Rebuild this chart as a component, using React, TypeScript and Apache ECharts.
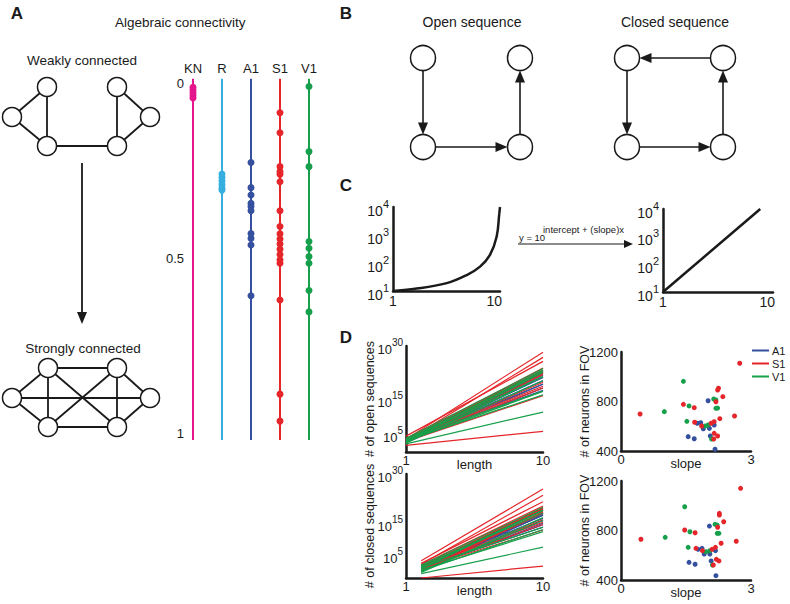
import React, { useEffect, useRef } from 'react';
import * as echarts from 'echarts';

const FONT = "'Liberation Sans', Arial, Helvetica, sans-serif";
const INK = '#1a1a1a';

const COLOR_KN = '#e5168b';
const COLOR_R = '#36aee0';
const COLOR_A1 = '#34509f';
const COLOR_S1 = '#e52529';
const COLOR_V1 = '#17a04b';

// ---------- Panel A : algebraic connectivity ----------
const STRIP_CATEGORIES = ['KN', 'R', 'A1', 'S1', 'V1'];
const STRIP_TICKS = [0, 0.5, 1];
const STRIP_EXTENT = [-0.012, 1.02];
const KN_VALUES = [0.012, 0.02, 0.028, 0.036, 0.043];
const R_VALUES = [0.26, 0.27, 0.28, 0.29, 0.3, 0.306];
const A1_VALUES = [0.227, 0.299, 0.32, 0.344, 0.353, 0.365, 0.43, 0.444, 0.463, 0.608];
const S1_VALUES = [0.085, 0.142, 0.239, 0.253, 0.261, 0.282, 0.365, 0.41, 0.431, 0.446, 0.46, 0.475, 0.49, 0.505, 0.515, 0.62, 0.889, 0.966];
const V1_VALUES = [0.01, 0.196, 0.239, 0.453, 0.472, 0.496, 0.515, 0.593, 0.654];

// ---------- Panel C ----------
const C_LENGTH_TICKS = [1, 10];
const C_LEFT_EXPONENT_LABELS = [1, 2, 3, 4];
const C_EXP_CURVE = [[1, 0], [2.8, 0.07], [5.77, 0.28], [7.55, 0.57], [8.73, 0.87], [9.61, 1.29], [10.2, 1.94], [10.44, 2.78], [10.5, 3]];
const C_LOG_LINE = [[1, 10], [9.4, 10000]];

// ---------- Panel D ----------
const OPEN_LENGTHS = [1, 10];
const CLOSED_LENGTHS = [2, 10];
const SEQ_EXP_TICKS = [5, 15, 30];
const LENGTH_TICKS = [1, 10];

const OPEN_SLOPE_A1 = [2.01, 1.76, 1.84, 1.9, 2.04, 2.15, 1.55, 1.69, 2.06, 2.17];
const OPEN_NEURONS_A1 = [806, 624, 629, 580, 583, 610, 516, 499, 521, 414];
const OPEN_INTERCEPT_A1 = [0.99, 1.64, 0.76, 1.2, 0.76, 1.15, 1.95, 1.21, 1.14, 0.53];

const OPEN_SLOPE_S1 = [2.74, 2.25, 2.23, 2.35, 2.19, 1.44, 1.69, 0.44, 2.62, 2.28, 1.7, 2.15, 2.08, 1.86, 2.15, 2.23, 2.14];
const OPEN_NEURONS_S1 = [1109, 907, 893, 839, 798, 777, 750, 699, 683, 661, 632, 637, 624, 602, 543, 521, 497];
const OPEN_INTERCEPT_S1 = [0.86, 1.25, 0.77, 2.15, 1.01, 1.56, 1.21, 1.46, 0.58, 0.82, 1.6, 0.45, 1.52, 1.14, 1.65, 0.47, 1.06];

const OPEN_SLOPE_V1 = [1.44, 2.14, 2.19, 1.57, 1.0, 2.19, 2.23, 1.52, 1.94, 2.01, 2.09];
const OPEN_NEURONS_V1 = [963, 820, 812, 764, 718, 745, 747, 640, 602, 610, 497];
const OPEN_INTERCEPT_V1 = [1.76, 1.36, 0.61, 1.43, 1.3, 1.71, 0.87, 2.08, 0.76, 1.29, 0.41];

const CLOSED_SLOPE_A1 = [2.04, 1.78, 1.87, 1.92, 2.05, 2.18, 1.57, 1.71, 2.08, 2.19];
const CLOSED_NEURONS_A1 = [836, 648, 656, 610, 610, 637, 543, 527, 554, 435];
const CLOSED_INTERCEPT_A1 = [-3.08, -2.96, -2.34, -3.54, -3.2, -3.96, -2.04, -2.72, -2.86, -4.38];

const CLOSED_SLOPE_S1 = [2.76, 2.27, 2.27, 2.37, 2.23, 1.47, 1.71, 0.46, 2.66, 2.31, 1.73, 2.18, 2.1, 1.88, 2.2, 2.26, 2.13];
const CLOSED_NEURONS_S1 = [1141, 939, 925, 871, 826, 804, 782, 729, 713, 697, 656, 664, 648, 637, 567, 554, 521];
const CLOSED_INTERCEPT_S1 = [-2.22, -2.54, -3.04, -2.24, -3.26, -1.94, -2.62, -2.92, -3.12, -3.62, -2.16, -3.86, -2.4, -2.86, -2.8, -4.32, -3.16];

const CLOSED_SLOPE_V1 = [1.47, 2.17, 2.22, 1.59, 1.02, 2.22, 2.26, 1.55, 1.96, 2.05, 2.11];
const CLOSED_NEURONS_V1 = [992, 850, 844, 790, 745, 777, 777, 664, 629, 637, 521];
const CLOSED_INTERCEPT_V1 = [-2.44, -2.84, -3.44, -2.98, -2.7, -2.44, -3.72, -1.9, -3.92, -2.5, -4.52];

// ---------- diagram helpers ----------
const WEAK_NODES = [[12, 117], [47, 87], [47, 146], [117, 87], [150, 117], [117, 146]];
const WEAK_EDGES = [[0, 1], [0, 2], [1, 2], [2, 5], [3, 5], [3, 4], [4, 5]];
const STRONG_NODES = [[12, 398], [48, 368], [48, 427], [117, 368], [150, 398], [117, 427]];
const STRONG_EDGES = [[0, 1], [0, 2], [0, 4], [1, 2], [1, 3], [1, 5], [2, 5], [2, 3], [3, 5], [3, 4], [4, 5]];

function text(x: number, y: number, t: string, fontSize: number, extra: any = {}) {
  return {
    type: 'text', x, y, z: 10,
    style: { text: t, fontSize, fontFamily: FONT, fill: INK, align: 'center', verticalAlign: 'middle', ...extra },
  };
}

function arrow(x1: number, y1: number, x2: number, y2: number, len: number, half: number, width: number) {
  const dx = x2 - x1, dy = y2 - y1;
  const L = Math.hypot(dx, dy);
  const ux = dx / L, uy = dy / L;
  const bx = x2 - ux * len, by = y2 - uy * len;
  const px = -uy, py = ux;
  return [
    { type: 'line', z: 5, shape: { x1, y1, x2: bx + ux, y2: by + uy }, style: { stroke: INK, lineWidth: width } },
    { type: 'polygon', z: 5, shape: { points: [[x2, y2], [bx + px * half, by + py * half], [bx - px * half, by - py * half]] }, style: { fill: INK } },
  ];
}

function graph(nodes: number[][], edges: number[][], r: number) {
  const els: any[] = [];
  edges.forEach(([a, b]) => {
    els.push({ type: 'line', z: 4, shape: { x1: nodes[a][0], y1: nodes[a][1], x2: nodes[b][0], y2: nodes[b][1] }, style: { stroke: INK, lineWidth: 1.8 } });
  });
  nodes.forEach(([cx, cy]) => {
    els.push({ type: 'circle', z: 6, shape: { cx, cy, r }, style: { fill: '#fff', stroke: INK, lineWidth: 1.5 } });
  });
  return els;
}

function circles(nodes: number[][], r: number) {
  return nodes.map(([cx, cy]) => ({ type: 'circle', z: 6, shape: { cx, cy, r }, style: { fill: '#fff', stroke: INK, lineWidth: 1.5 } }));
}

function supRich(base: number, sup: number, shift: number) {
  return {
    b: { fontSize: base, fontFamily: FONT, color: INK, padding: [shift, 0, 0, 0] },
    s: { fontSize: sup, fontFamily: FONT, color: INK, padding: [0, 0, shift, 0] },
  };
}

const AXIS_LINE = { show: true, onZero: false, lineStyle: { color: INK, width: 2.5 } };
const NO_TICK = { show: false };
const NO_SPLIT = { show: false };
const LABEL_BASE = { fontSize: 13, color: INK, fontFamily: FONT };
const NAME_STYLE = { fontSize: 13, color: INK, fontFamily: FONT };
const YNAME_STYLE = { fontSize: 12.5, color: INK, fontFamily: FONT };

function fitLines(name: string, color: string, slopes: number[], intercepts: number[], lengths: number[], axisIndex: number) {
  return slopes.map((m, i) => ({
    type: 'line', name, color, xAxisIndex: axisIndex, yAxisIndex: axisIndex,
    data: lengths.map((x) => [x, intercepts[i] + m * x]),
    symbol: 'none', silent: true,
    lineStyle: { color, width: 1.2 }, itemStyle: { color },
  }));
}

function scatter(name: string, color: string, slopes: number[], neurons: number[], axisIndex: number) {
  return {
    type: 'scatter', name, xAxisIndex: axisIndex, yAxisIndex: axisIndex,
    data: slopes.map((s, i) => [s, neurons[i]]),
    symbolSize: 5, itemStyle: { color, opacity: 1 },
  };
}

function buildOption() {
  const stripSets: [string, number[], string][] = [
    ['KN', KN_VALUES, COLOR_KN], ['R', R_VALUES, COLOR_R], ['A1', A1_VALUES, COLOR_A1], ['S1', S1_VALUES, COLOR_S1], ['V1', V1_VALUES, COLOR_V1],
  ];
  const stripSeries: any[] = [];
  stripSets.forEach(([cat, vals, color]) => {
    stripSeries.push({
      type: 'line', name: cat + ' connectivity', xAxisIndex: 0, yAxisIndex: 0, clip: false,
      data: STRIP_EXTENT.map((v) => [cat, v]), symbol: 'none', silent: true,
      lineStyle: { color, width: 2 }, itemStyle: { color },
    });
    stripSeries.push({
      type: 'scatter', name: cat + ' values', xAxisIndex: 0, yAxisIndex: 0,
      data: vals.map((v) => [cat, v]), symbolSize: 7, itemStyle: { color, opacity: 1 },
    });
  });

  const graphic: any[] = [
    text(17, 13, 'A', 17, { fontWeight: 'bold' }),
    text(346, 13, 'B', 17, { fontWeight: 'bold' }),
    text(346, 185, 'C', 17, { fontWeight: 'bold' }),
    text(346, 337, 'D', 17, { fontWeight: 'bold' }),
    text(115, 22, 'Algebraic connectivity', 13.5, { align: 'left' }),
    text(82, 60, 'Weakly connected', 13.5),
    text(83, 348, 'Strongly connected', 13.5),
    ...graph(WEAK_NODES, WEAK_EDGES, 9.5),
    ...graph(STRONG_NODES, STRONG_EDGES, 9.5),
    ...arrow(82, 163, 82, 324, 12, 5, 1.8),
    text(472, 22, 'Open sequence', 14),
    text(675, 22, 'Closed sequence', 14),
    ...circles([[423, 58], [423, 147], [520, 58], [520, 147]], 12.5),
    ...arrow(423, 70.5, 423, 134.5, 12, 5, 1.6),
    ...arrow(435.5, 147, 507.5, 147, 12, 5, 1.6),
    ...arrow(520, 134.5, 520, 70.5, 12, 5, 1.6),
    ...circles([[627, 58], [627, 147], [723, 58], [723, 147]], 12.5),
    ...arrow(710.5, 58, 639.5, 58, 12, 5, 1.6),
    ...arrow(627, 70.5, 627, 134.5, 12, 5, 1.6),
    ...arrow(639.5, 147, 710.5, 147, 12, 5, 1.6),
    ...arrow(723, 134.5, 723, 70.5, 12, 5, 1.6),
    ...arrow(518, 244, 633, 244, 9, 4, 1.1),
    text(519, 237, 'y = 10', 9.5, { align: 'left' }),
    text(543, 229, 'intercept + (slope)x', 9.5, { align: 'left' }),
  ];

  const seqLabel = {
    ...LABEL_BASE,
    customValues: SEQ_EXP_TICKS,
    margin: 3,
    formatter: (v: number) => `{b|10}{s|${v}}`,
    rich: supRich(13, 10, 7),
  };

  const neuronLabel = { ...LABEL_BASE, margin: 3, formatter: (v: number) => String(v) };

  return {
    animation: false,
    backgroundColor: '#fff',
    textStyle: { fontFamily: FONT },
    legend: {
      data: ['A1', 'S1', 'V1'], left: 752, top: 345, orient: 'vertical', itemGap: 2,
      itemWidth: 17, itemHeight: 2, icon: 'rect', padding: 0, selectedMode: false,
      textStyle: { fontSize: 11, lineHeight: 11, color: INK, fontFamily: FONT, padding: [0, 0, 0, -2] },
    },
    grid: [
      { left: 193, top: 83, width: 116, height: 350 },
      { left: 393, top: 207, width: 107, height: 84 },
      { left: 663, top: 209, width: 110, height: 83 },
      { left: 406, top: 346, width: 137, height: 106 },
      { left: 621, top: 352, width: 130, height: 99 },
      { left: 406, top: 474, width: 137, height: 104 },
      { left: 621, top: 481, width: 130, height: 99 },
    ],
    xAxis: [
      {
        gridIndex: 0, type: 'category', data: STRIP_CATEGORIES, boundaryGap: false, position: 'top',
        axisLine: { show: false }, axisTick: NO_TICK, splitLine: NO_SPLIT,
        axisLabel: { ...LABEL_BASE, margin: 8 },
      },
      {
        gridIndex: 1, type: 'value', min: 1, max: 10.5, axisLine: AXIS_LINE, axisTick: NO_TICK, splitLine: NO_SPLIT,
        axisLabel: { ...LABEL_BASE, fontSize: 14, margin: 3, customValues: C_LENGTH_TICKS },
      },
      {
        gridIndex: 2, type: 'value', min: 1, max: 10.5, axisLine: AXIS_LINE, axisTick: NO_TICK, splitLine: NO_SPLIT,
        axisLabel: { ...LABEL_BASE, fontSize: 14, margin: 3, customValues: C_LENGTH_TICKS },
      },
      {
        gridIndex: 3, type: 'value', min: 1, max: 10, axisLine: AXIS_LINE, axisTick: NO_TICK, splitLine: NO_SPLIT,
        axisLabel: { ...LABEL_BASE, margin: 2, customValues: LENGTH_TICKS },
        name: 'length', nameLocation: 'middle', nameGap: 6, nameTextStyle: NAME_STYLE, nameMoveOverlap: false,
      },
      {
        gridIndex: 4, type: 'value', min: 0, max: 3, interval: 3, axisLine: AXIS_LINE, axisTick: NO_TICK, splitLine: NO_SPLIT,
        axisLabel: { ...LABEL_BASE, margin: 2 },
        name: 'slope', nameLocation: 'middle', nameGap: 6, nameTextStyle: NAME_STYLE, nameMoveOverlap: false,
      },
      {
        gridIndex: 5, type: 'value', min: 1, max: 10, axisLine: AXIS_LINE, axisTick: NO_TICK, splitLine: NO_SPLIT,
        axisLabel: { ...LABEL_BASE, margin: 2, customValues: LENGTH_TICKS },
        name: 'length', nameLocation: 'middle', nameGap: 6, nameTextStyle: NAME_STYLE, nameMoveOverlap: false,
      },
      {
        gridIndex: 6, type: 'value', min: 0, max: 3, interval: 3, axisLine: AXIS_LINE, axisTick: NO_TICK, splitLine: NO_SPLIT,
        axisLabel: { ...LABEL_BASE, margin: 2 },
        name: 'slope', nameLocation: 'middle', nameGap: 6, nameTextStyle: NAME_STYLE, nameMoveOverlap: false,
      },
    ],
    yAxis: [
      {
        gridIndex: 0, type: 'value', min: 0, max: 1, interval: 0.5, inverse: true,
        axisLine: { show: false }, axisTick: NO_TICK, splitLine: NO_SPLIT,
        axisLabel: { ...LABEL_BASE, margin: 9, customValues: STRIP_TICKS },
      },
      {
        gridIndex: 1, type: 'value', min: 0, max: 3, interval: 1, axisLine: AXIS_LINE, axisTick: NO_TICK, splitLine: NO_SPLIT,
        axisLabel: {
          ...LABEL_BASE, margin: 4,
          formatter: (v: number) => `{b|10}{s|${C_LEFT_EXPONENT_LABELS[Math.round(v)]}}`,
          rich: supRich(14, 11, 7),
        },
      },
      {
        gridIndex: 2, type: 'log', logBase: 10, min: 10, max: 10000, axisLine: AXIS_LINE, axisTick: NO_TICK, splitLine: NO_SPLIT,
        axisLabel: {
          ...LABEL_BASE, margin: 4,
          formatter: (v: number) => `{b|10}{s|${Math.round(Math.log10(v))}}`,
          rich: supRich(14, 11, 7),
        },
      },
      {
        gridIndex: 3, type: 'value', min: 0, max: 30, axisLine: AXIS_LINE, axisTick: NO_TICK, splitLine: NO_SPLIT,
        axisLabel: seqLabel,
        name: '# of open sequences', nameLocation: 'middle', nameGap: 30, nameTextStyle: YNAME_STYLE, nameMoveOverlap: false,
      },
      {
        gridIndex: 4, type: 'value', min: 400, max: 1200, interval: 400, axisLine: AXIS_LINE, axisTick: NO_TICK, splitLine: NO_SPLIT,
        axisLabel: neuronLabel,
        name: '# of neurons in FOV', nameLocation: 'middle', nameGap: 30, nameTextStyle: YNAME_STYLE, nameMoveOverlap: false,
      },
      {
        gridIndex: 5, type: 'value', min: -2, max: 30, axisLine: AXIS_LINE, axisTick: NO_TICK, splitLine: NO_SPLIT,
        axisLabel: seqLabel,
        name: '# of closed sequences', nameLocation: 'middle', nameGap: 30, nameTextStyle: YNAME_STYLE, nameMoveOverlap: false,
      },
      {
        gridIndex: 6, type: 'value', min: 400, max: 1200, interval: 400, axisLine: AXIS_LINE, axisTick: NO_TICK, splitLine: NO_SPLIT,
        axisLabel: neuronLabel,
        name: '# of neurons in FOV', nameLocation: 'middle', nameGap: 30, nameTextStyle: YNAME_STYLE, nameMoveOverlap: false,
      },
    ],
    series: [
      ...stripSeries,
      {
        type: 'line', name: 'exponential', xAxisIndex: 1, yAxisIndex: 1, data: C_EXP_CURVE, smooth: 0.4,
        symbol: 'none', clip: false, lineStyle: { color: INK, width: 2.5 },
      },
      {
        type: 'line', name: 'log-linear', xAxisIndex: 2, yAxisIndex: 2, data: C_LOG_LINE,
        symbol: 'none', lineStyle: { color: INK, width: 2.5 },
      },
      scatter('A1', COLOR_A1, OPEN_SLOPE_A1, OPEN_NEURONS_A1, 4),
      scatter('V1', COLOR_V1, OPEN_SLOPE_V1, OPEN_NEURONS_V1, 4),
      scatter('S1', COLOR_S1, OPEN_SLOPE_S1, OPEN_NEURONS_S1, 4),
      scatter('A1', COLOR_A1, CLOSED_SLOPE_A1, CLOSED_NEURONS_A1, 6),
      scatter('V1', COLOR_V1, CLOSED_SLOPE_V1, CLOSED_NEURONS_V1, 6),
      scatter('S1', COLOR_S1, CLOSED_SLOPE_S1, CLOSED_NEURONS_S1, 6),
      ...fitLines('A1', COLOR_A1, OPEN_SLOPE_A1, OPEN_INTERCEPT_A1, OPEN_LENGTHS, 3),
      ...fitLines('S1', COLOR_S1, OPEN_SLOPE_S1, OPEN_INTERCEPT_S1, OPEN_LENGTHS, 3),
      ...fitLines('V1', COLOR_V1, OPEN_SLOPE_V1, OPEN_INTERCEPT_V1, OPEN_LENGTHS, 3),
      ...fitLines('A1', COLOR_A1, CLOSED_SLOPE_A1, CLOSED_INTERCEPT_A1, CLOSED_LENGTHS, 5),
      ...fitLines('S1', COLOR_S1, CLOSED_SLOPE_S1, CLOSED_INTERCEPT_S1, CLOSED_LENGTHS, 5),
      ...fitLines('V1', COLOR_V1, CLOSED_SLOPE_V1, CLOSED_INTERCEPT_V1, CLOSED_LENGTHS, 5),
    ],
    graphic,
  };
}

export default function App() {
  const ref = useRef<HTMLDivElement>(null);
  useEffect(() => {
    const chart = echarts.init(ref.current!, null, { renderer: 'svg' });
    chart.setOption(buildOption() as any);
    return () => chart.dispose();
  }, []);
  return (
    <div
      ref={ref}
      style={{ position: 'absolute', left: 0, top: 0, width: 790, height: 604, background: '#fff' }}
    />
  );
}
